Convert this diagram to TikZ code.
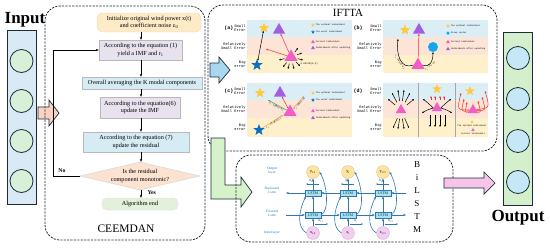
\documentclass[tikz,border=0pt]{standalone}
\usepackage{fontspec}
\setmainfont{Liberation Serif}
\newfontfamily\monof{Liberation Mono}
\usetikzlibrary{shapes.geometric,arrows.meta,calc}
\newcommand\fsz[2]{\fontsize{#1}{#2}\selectfont}
\definecolor{dk}{HTML}{1E2B38}
\definecolor{inblue}{HTML}{DAE9F6}
\definecolor{ingreen}{HTML}{D8F0D8}
\definecolor{outgreen}{HTML}{D4EFCB}
\definecolor{outblue}{HTML}{C6E8F6}
\definecolor{peachA}{HTML}{F9D3C0}
\definecolor{skyA}{HTML}{A8D8F0}
\definecolor{mintA}{HTML}{D5F2C8}
\definecolor{pinkA}{HTML}{F5C4E8}
\definecolor{bandB}{HTML}{DCEEF5}
\definecolor{bandP}{HTML}{FCE4D6}
\definecolor{bandY}{HTML}{FFF0CC}
\definecolor{fyel}{HTML}{FDEBC8}
\definecolor{flav}{HTML}{E8E2EE}
\definecolor{fblu}{HTML}{D5ECF4}
\definecolor{fpea}{HTML}{FCE2D0}
\definecolor{fgrn}{HTML}{E3F0DA}
\definecolor{starY}{HTML}{FFC93C}
\definecolor{starB}{HTML}{0A6FC2}
\definecolor{triP}{HTML}{A25EE0}
\definecolor{triK}{HTML}{F45CC8}
\definecolor{circB}{HTML}{10A8EE}
\definecolor{lblue}{HTML}{2E75B6}
\definecolor{lstmC}{HTML}{A6E3F0}
\definecolor{ocY}{HTML}{FDE4A0}
\definecolor{icP}{HTML}{F4CDF2}
\definecolor{redA}{HTML}{F03030}
\definecolor{grnA}{HTML}{2DB04A}
\definecolor{orgA}{HTML}{F5A040}
\tikzset{
  dashbox/.style={draw=dk, line width=0.8pt, dash pattern=on 2.2pt off 1.2pt, rounded corners=15pt},
  bigarrow/.style={draw=dk, line width=0.7pt, line join=miter},
  colbox/.style={draw=dk, line width=0.9pt, inner sep=0},
  fbox/.style={draw=gray!55, line width=0.4pt, align=center, font=\fsz{6.2}{7.3}, inner sep=1pt},
  farr/.style={-{Stealth[length=3pt,width=2.4pt]}, line width=0.5pt, draw=black},
  plab/.style={font=\monof\fsz{3.7}{4.3}, align=right, anchor=east, inner sep=0.3pt},
  pid/.style={font=\monof\bfseries\fsz{5}{5.5}, inner sep=0},
  lgt/.style={font=\monof\fsz{2.2}{2.6}, anchor=west, inner sep=0.2pt},
  tnote/.style={font=\monof\fsz{2.4}{2.8}, inner sep=0.4pt},
  ystar/.style={star, star points=5, star point ratio=2.4, fill=starY, inner sep=0, minimum size=#1},
  bstar/.style={star, star points=5, star point ratio=2.4, fill=starB, inner sep=0, minimum size=#1},
  ptri/.style={regular polygon, regular polygon sides=3, fill=triP, inner sep=0, minimum size=#1},
  ctri/.style={regular polygon, regular polygon sides=3, fill=triK, inner sep=0, minimum size=#1},
  bcirc/.style={circle, fill=circB, inner sep=0, minimum size=#1},
  blk/.style={-{Stealth[length=2pt,width=1.7pt]}, line width=0.5pt, draw=black},
  blktwo/.style={{Stealth[length=2pt,width=1.7pt]}-{Stealth[length=2pt,width=1.7pt]}, line width=0.5pt, draw=black},
  redarr/.style={-{Stealth[length=2.2pt,width=1.8pt]}, line width=0.5pt, draw=redA},
  grnarr/.style={-{Stealth[length=2.2pt,width=1.8pt]}, line width=0.5pt, draw=grnA},
  orgarr/.style={-{Stealth[length=2.2pt,width=1.8pt]}, line width=0.5pt, draw=orgA},
  ocirc/.style={circle, fill=ocY, draw=ocY!80!black, line width=0.2pt, inner sep=0, minimum size=13, font=\fsz{4.2}{4.5}},
  icirc/.style={circle, fill=icP, draw=icP!80!black, line width=0.2pt, inner sep=0, minimum size=13, font=\fsz{4.2}{4.5}},
  lstm/.style={rectangle, fill=lstmC, draw=lblue, line width=0.3pt, minimum width=16, minimum height=6.5, inner sep=0, font=\fsz{3.8}{4}, text=dk},
  barr/.style={-{Stealth[length=3pt,width=2.4pt]}, line width=0.6pt, draw=lblue},
  sarr/.style={-{Stealth[length=1.8pt,width=1.5pt]}, line width=0.4pt, draw=lblue},
  llab/.style={font=\fsz{3.6}{4.2}, text=lblue, align=center, inner sep=0},
  hlab/.style={font=\fsz{3.4}{4}, text=dk, inner sep=0},
}
\newcommand\lgd[5]{\node[#4] (#1) at (#2,#3) {}; \node[lgt] (#1t) at (#2+2.5,#3) {#5};}
\begin{document}
\begin{tikzpicture}[x=1pt,y=-1pt]
\useasboundingbox (0,0) rectangle (550,247);

% ---------------- Input column
\node[font=\bfseries\fsz{17}{19}] (inT) at (25,20) {Input};
\node[colbox, fill=inblue, minimum width=29, minimum height=174] (inCol) at (21.5,117) {};
\foreach \i/\y in {1/61,2/101,3/141,4/181}
  \node[circle, draw=dk, line width=0.8pt, fill=ingreen, minimum size=23, inner sep=0] (inC\i) at (21.5,\y) {};
\draw[bigarrow, fill=peachA] (38,107) -- (49,107) -- (49,100) -- (59,113) -- (49,126) -- (49,119) -- (38,119) -- cycle;

% ---------------- CEEMDAN
\draw[dashbox] (45,6) rectangle (205,240);
\coordinate (ax) at (141,0);
\node[fbox, fill=fyel, draw=orange!35, rounded corners=6pt, minimum width=104, minimum height=19] (b1) at (149,22.5) {Initialize original wind power x(t)\\and coefficient noise ε\textsubscript{0}};
\node[fbox, fill=flav, minimum width=83, minimum height=20] (b2) at (140.5,50) {According to the equation (1)\\yield a IMF and r\textsubscript{1}};
\node[fbox, fill=fblu, minimum width=120, minimum height=12] (b3) at (142,83) {Overall averaging the K modal components};
\node[fbox, fill=flav, minimum width=80, minimum height=21] (b4) at (140,107.5) {According to the equation(6)\\update the IMF};
\node[fbox, fill=fblu, minimum width=106, minimum height=20] (b5) at (136,142) {According to the equation (7)\\update the residual};
\node[diamond, fill=fpea, draw=gray!35, minimum width=120, minimum height=28, inner sep=0] (dia) at (140,176) {};
\node[font=\fsz{6.2}{7.3}, align=center, inner sep=0] (diaT) at (140,176) {Is the residual\\component monotonic?};
\node[fbox, fill=fgrn, draw=gray!25, rounded corners=5pt, minimum width=76, minimum height=12] (b6) at (140,204) {Algorithm end};
\draw[farr] (b1.south -| ax) -- (b2.north -| ax);
\draw[farr] (b2.south -| ax) -- (b3.north -| ax);
\draw[farr] (b3.south -| ax) -- (b4.north -| ax);
\draw[farr] (b4.south -| ax) -- (b5.north -| ax);
\draw[farr] (b5.south -| ax) -- (dia.north -| ax);
\draw[farr] (dia.south -| ax) -- (b6.north -| ax);
\node[font=\bfseries\fsz{5.8}{6.5}, anchor=west] (yes) at (144,193) {Yes};
\coordinate (lp1) at (53,176);
\coordinate (lp2) at (53,50);
\draw[farr] (dia.west) -- (lp1) -- (lp2) -- (b2.west);
\node[font=\bfseries\fsz{5.8}{6.5}] (no) at (62,171) {No};
\node[font=\fsz{11.5}{13}] (ceemT) at (126,229) {CEEMDAN};

% ---------------- IFTTA
\draw[dashbox] (208,5) rectangle (497,151);
\node[font=\fsz{11}{12}] (iftT) at (348,13) {IFTTA};
\draw[bigarrow, fill=skyA] (210,63) -- (219,63) -- (219,57) -- (230,70) -- (219,83) -- (219,77) -- (210,77) -- cycle;

% bands
\foreach \x in {247,383} {
  \fill[bandB] (\x,20) rectangle (\x+105,37);
  \fill[bandP] (\x,37) rectangle (\x+105,55);
  \fill[bandY] (\x,55) rectangle (\x+105,73);
  \fill[bandB] (\x,83) rectangle (\x+105,100);
  \fill[bandP] (\x,100) rectangle (\x+105,118);
  \fill[bandY] (\x,118) rectangle (\x+105,137);
}
\foreach \n/\x/\y/\t in {aId/229/28/a, bId/358/28/b, cId/229/91/c, dId/358/91/d}
  \node[pid] (\n) at (\x,\y) {(\t)};
\foreach \n/\x/\y in {a/246/0, b/382/0, c/246/63, d/382/63} {
  \node[plab] (\n S) at (\x,28+\y) {Small\\Error};
  \node[plab] (\n R) at (\x,46+\y) {Relatively\\Small Error};
  \node[plab] (\n B) at (\x,64+\y) {Big\\error};
}

% panel (a)
\node[ystar=11] (aYS) at (264,28) {};
\node[ptri=14] (aPT) at (279,30) {};
\node[bstar=12] (aBS) at (257,65) {};
\node[ctri=15] (aCT) at (291,57) {};
\draw[blktwo] (aBS) -- (aYS);
\coordinate (aRe) at (266,49);
\draw[redarr] (aCT) -- (aPT);
\draw[redarr] (aCT) -- (aRe);
\foreach \dx/\dy in {7/-9,11/-4,12/3,9/9,3/12,-3/12,-8/10,-12/3}
  \draw[blk] ($(aCT)+(\dx*0.55,\dy*0.55)$) -- ($(aCT)+(\dx,\dy)$);
\node[tnote, anchor=west] (aNt) at (300,64) {0.001×N(0,1)};
\lgd{aL1}{313}{25}{ystar=4}{The optimal individual}
\lgd{aL2}{313}{32}{bstar=4}{The worst individual}
\lgd{aL3}{313}{42}{ctri=4.5}{Current individual}
\lgd{aL4}{313}{48}{ptri=4.5}{Individuals after updating}

% panel (b)
\node[ystar=11] (bYS) at (405,30) {};
\node[ptri=14] (bPT) at (419,30) {};
\node[bcirc=10] (bGC) at (433,47) {};
\node[ctri=15] (bCT) at (418,65) {};
\draw[redarr] (bCT) -- (bPT);
\coordinate (bE1) at (398,39);
\draw[blk] (bCT.west) .. controls (401,70) and (396,55) .. (bE1) node[pos=0.45, sloped, below, tnote] {r\textsubscript{1}·(Best−X)};
\draw[blk] (bCT.east) .. controls (429,68) and (433,62) .. (bGC.south) node[pos=0.4, sloped, below, tnote] {r\textsubscript{2}·(Xc−X)};
\lgd{bL1}{448}{26}{ystar=4}{The optimal individual}
\lgd{bL2}{448}{33}{bcirc=3.5}{Group center}
\lgd{bL3}{448}{42}{ctri=4.5}{Current individual}
\lgd{bL4}{448}{49}{ptri=4.5}{Individuals after updating}

% panel (c)
\node[ystar=11] (cYS) at (260,93) {};
\node[ptri=14] (cPT) at (280,93) {};
\node[ctri=15] (cCT) at (290,112) {};
\node[bstar=12] (cBS) at (259,130) {};
\coordinate (cG) at (268,100);
\coordinate (cO1) at (283,115);
\coordinate (cO2) at (304,96);
\draw[grnarr] (cCT) -- (cG) node[midway, sloped, below, tnote] {r\textsubscript{1}·(Best−X)};
\draw[redarr] (cCT) -- (cPT);
\draw[orgarr] (cBS) -- (cO1) node[midway, sloped, below, tnote] {r\textsubscript{2}·(X−Worst)};
\draw[orgarr] (cCT) -- (cO2) node[midway, sloped, below, tnote] {r\textsubscript{3}·(Best−X)};
\lgd{cL1}{313}{93}{ystar=4}{The optimal individual}
\lgd{cL2}{313}{100}{bstar=4}{The worst individual}
\lgd{cL3}{313}{111}{ctri=4.5}{Current individual}
\lgd{cL4}{313}{118}{ptri=4.5}{Individuals after updating}

% panel (d)
\draw[gray!70, line width=1pt] (418,83) -- (418,137);
\draw[gray!70, line width=1pt] (455,83) -- (455,137);
\node[ctri=12] (d1T) at (401,110) {};
\foreach \tx/\ty in {388/99,392/93,398/90,404/90,410/93,414/99,393/128,398/129,404/129,409/128}
  \draw[blk] ($(d1T)!0.45!(\tx,\ty)$) -- (\tx,\ty);
\node[ystar=10] (d2S) at (437,89) {};
\node[ctri=12] (d2T) at (437,108) {};
\foreach \tx in {431,435,440,444}
  \draw[redarr] (\tx,100) -- (\tx,96);
\draw[blk] (d2T.west) .. controls (428,103) .. (423,99);
\draw[blk] (d2T.west) .. controls (427,110) .. (422,113);
\draw[blk] (d2T.east) .. controls (446,103) .. (451,99);
\draw[blk] (d2T.east) .. controls (447,110) .. (452,113);
\foreach \tx in {430,435,440,445}
  \draw[blk] (\tx,115) -- (\tx,127);
\node[ystar=10] (d3S) at (470,91) {};
\node[ctri=12] (d3T) at (473,110) {};
\foreach \ex/\ey/\cx/\cy in {461/93/457/110, 464/99/461/112, 467/102/465/113, 478/101/481/113, 482/97/486/111, 485/91/490/108}
  \draw[redarr] (d3T) .. controls (\cx,\cy) .. (\ex,\ey);
\node[ystar=3.5] (d3L1) at (472,122) {};
\node[lgt, anchor=center] (d3L1t) at (472,125.5) {The optimal individual};
\node[ctri=4] (d3L2) at (473,130) {};
\node[lgt, anchor=center] (d3L2t) at (473,133.5) {Current individual};

% ---------------- green L arrow
\draw[bigarrow, fill=mintA] (211,138) -- (225,138) -- (225,185) -- (241,185) -- (241,177) -- (252,192) -- (241,207) -- (241,199) -- (211,199) -- cycle;

% ---------------- BiLSTM
\draw[dashbox] (236,155) rectangle (453,242);
\node[llab] (lO) at (272,171) {Output\\layer};
\node[llab] (lB) at (272,190) {Backward\\Lstm};
\node[llab] (lF) at (272,213) {Forward\\Lstm};
\node[llab] (lI) at (272,233) {Input layer};
\foreach \i/\x/\q in {1/313/t-1,2/348/t,3/383/t+1} {
  \node[ocirc] (oc\i) at (\x,172) {y\textsubscript{\q}};
  \node[lstm] (lb\i) at (\x,193) {LSTM};
  \node[lstm] (lf\i) at (\x,215) {LSTM};
  \node[icirc] (ic\i) at (\x,233) {x\textsubscript{\q}};
  \draw[barr] (lf\i) -- (lb\i);
  \draw[barr] (lb\i) -- (oc\i);
  \draw[barr] (ic\i) -- (lf\i);
  \draw[barr] (ic\i.west) .. controls ($(ic\i.west)+(-10,-6)$) and ($(lb\i.south west)+(-6,14)$) .. ($(lb\i.south west)+(1,0)$);
  \draw[barr] (lf\i.east) .. controls ($(lf\i.east)+(8,-4)$) and ($(oc\i.east)+(8,14)$) .. (oc\i.east);
  \node[hlab] (hb\i) at (\x-1,180.5) {h\textsubscript{\q}};
  \coordinate (hbs\i) at (\x+6,184);
  \coordinate (hbe\i) at (\x-7,184);
  \draw[sarr] (hbs\i) -- (hbe\i);
  \node[hlab] (hf\i) at (\x+8,220.5) {h\textsubscript{\q}};
  \coordinate (hfs\i) at (\x+2,224);
  \coordinate (hfe\i) at (\x+15,224);
  \draw[sarr] (hfs\i) -- (hfe\i);
}
\coordinate (bR) at (406,193);
\coordinate (bL) at (286,193);
\coordinate (fL) at (286,215);
\coordinate (fR) at (406,215);
\draw[barr] (bR) -- (lb3);
\draw[barr] (lb3) -- (lb2);
\draw[barr] (lb2) -- (lb1);
\draw[barr] (lb1) -- (bL);
\draw[barr] (fL) -- (lf1);
\draw[barr] (lf1) -- (lf2);
\draw[barr] (lf2) -- (lf3);
\draw[barr] (lf3) -- (fR);
\foreach \l/\y [count=\k] in {B/165,i/178,L/191,S/204,T/217,M/230}
  \node[font=\fsz{9}{10}, inner sep=0] (bil\k) at (417,\y) {\l};

% ---------------- Output
\draw[bigarrow, fill=pinkA] (444,178) -- (484,178) -- (484,172) -- (495,183) -- (484,194) -- (484,188) -- (444,188) -- cycle;
\node[colbox, fill=outgreen, minimum width=29, minimum height=173] (outCol) at (518,118.5) {};
\foreach \i/\y in {1/58,2/99,3/141,4/182}
  \node[circle, draw=dk, line width=0.8pt, fill=outblue, minimum size=23, inner sep=0] (outC\i) at (518,\y) {};
\node[font=\bfseries\fsz{17}{19}] (outT) at (518,218) {Output};
\end{tikzpicture}
\end{document}
